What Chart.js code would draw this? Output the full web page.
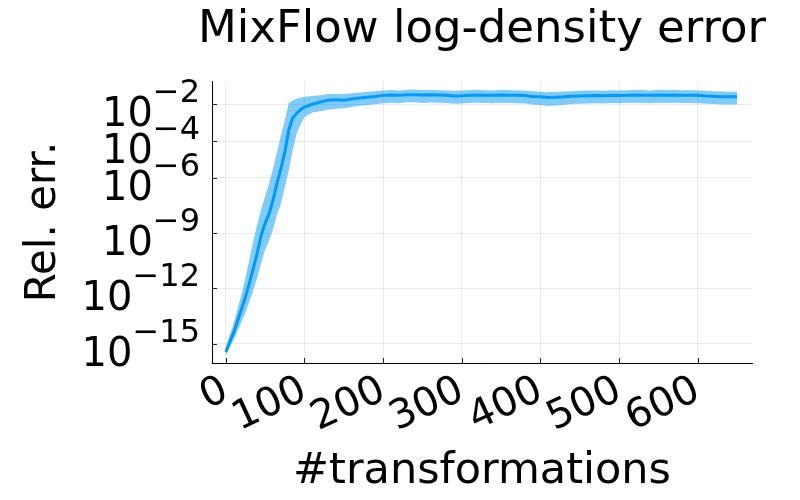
<!DOCTYPE html>
<html>
<head>
<meta charset="utf-8">
<script src="https://cdn.jsdelivr.net/npm/chart.js@4/dist/chart.umd.min.js"></script>
<style>
  html, body { margin: 0; padding: 0; background: #fff; }
</style>
</head>
<body>
<canvas id="c" width="800" height="500"></canvas>
<script>
// values (y given as log10)
const xValues = [0, 5, 10, 15, 20, 25, 30, 35, 40, 45, 50, 55, 60, 65, 70, 75, 80, 85, 90, 95, 100,
  110, 120, 130, 140, 150, 160, 170, 180, 190, 200, 210, 220, 230, 240, 250, 260, 270, 280, 290, 300,
  310, 320, 330, 340, 350, 360, 370, 380, 390, 400, 410, 420, 430, 440, 450, 460, 470, 480, 490, 500,
  510, 520, 530, 540, 550, 560, 570, 580, 590, 600, 610, 620, 630, 640, 650];

const centerLog = [-15.45, -14.9, -14.4, -13.75, -13.1, -12.45, -11.7, -10.9, -10.05, -9.1, -8.45,
  -7.95, -7.2, -6.3, -5.5, -4.6, -3.4, -2.75, -2.5, -2.3, -2.15,
  -2.0, -1.88, -1.78, -1.76, -1.78, -1.72, -1.66, -1.62, -1.58, -1.52, -1.5, -1.52, -1.49, -1.48, -1.5,
  -1.49, -1.5, -1.52, -1.55, -1.54, -1.52, -1.5, -1.51, -1.52, -1.5, -1.51, -1.52, -1.53, -1.58, -1.6,
  -1.64, -1.62, -1.6, -1.57, -1.55, -1.54, -1.53, -1.54, -1.52, -1.53, -1.52, -1.5, -1.51, -1.52, -1.5,
  -1.51, -1.5, -1.52, -1.51, -1.52, -1.55, -1.57, -1.59, -1.6, -1.6];

const upperLog = [-15.2, -14.5, -13.9, -13.1, -12.3, -11.4, -10.4, -9.4, -8.5, -7.7, -7.0,
  -6.3, -5.5, -4.6, -3.7, -2.85, -1.95, -1.8, -1.7, -1.65, -1.6,
  -1.55, -1.52, -1.45, -1.44, -1.45, -1.4, -1.36, -1.33, -1.3, -1.26, -1.23, -1.25, -1.22, -1.2, -1.23,
  -1.22, -1.24, -1.25, -1.27, -1.26, -1.24, -1.22, -1.24, -1.25, -1.22, -1.23, -1.25, -1.26, -1.3, -1.33,
  -1.35, -1.33, -1.31, -1.29, -1.27, -1.26, -1.25, -1.27, -1.24, -1.25, -1.24, -1.22, -1.23, -1.25, -1.22,
  -1.23, -1.22, -1.24, -1.23, -1.25, -1.27, -1.29, -1.31, -1.32, -1.32];

const lowerLog = [-15.65, -15.2, -14.8, -14.3, -13.8, -13.3, -12.7, -12.1, -11.4, -10.6, -9.9,
  -9.4, -8.8, -8.0, -7.4, -6.5, -5.6, -4.5, -3.6, -3.1, -2.7,
  -2.45, -2.38, -2.3, -2.25, -2.22, -2.15, -2.08, -2.04, -2.0, -1.95, -1.92, -1.95, -1.9, -1.9, -1.93,
  -1.91, -1.92, -1.94, -1.97, -1.96, -1.93, -1.92, -1.93, -1.95, -1.92, -1.93, -1.95, -1.96, -2.01, -2.04,
  -2.1, -2.07, -2.03, -1.99, -1.97, -1.96, -1.95, -1.96, -1.94, -1.95, -1.94, -1.92, -1.93, -1.95, -1.92,
  -1.94, -1.92, -1.94, -1.93, -1.95, -1.97, -1.99, -2.01, -2.02, -2.02];

const xTicks = [0, 100, 200, 300, 400, 500, 600];
const yTickExps = [-2, -4, -6, -9, -12, -15];

const FONT = '"DejaVu Sans", sans-serif';
const LINE = "#009afa";
const RIBBON = "rgba(0,154,250,0.5)";

const toPoints = (logs) => xValues.map((x, i) => ({ x, y: Math.pow(10, logs[i]) }));

// tick labels like 10^-2, inside tick marks and the title
const decorPlugin = {
  id: "decor",
  afterDraw(chart) {
    const { ctx, chartArea } = chart;
    const xs = chart.scales.x;
    const ys = chart.scales.y;
    ctx.save();
    ctx.strokeStyle = "#222";
    ctx.lineWidth = 1;
    ctx.beginPath();
    for (const t of xTicks) {
      const px = Math.round(xs.getPixelForValue(t)) + 0.5;
      ctx.moveTo(px, chartArea.bottom);
      ctx.lineTo(px, chartArea.bottom - 5);
    }
    for (const e of yTickExps) {
      const py = Math.round(ys.getPixelForValue(Math.pow(10, e))) + 0.5;
      ctx.moveTo(chartArea.left, py);
      ctx.lineTo(chartArea.left + 5, py);
    }
    ctx.stroke();

    ctx.fillStyle = "#000";
    ctx.textAlign = "left";
    ctx.textBaseline = "alphabetic";
    const right = chartArea.left - 12;
    for (const e of yTickExps) {
      const py = ys.getPixelForValue(Math.pow(10, e));
      const expText = "\u2212" + Math.abs(e);
      ctx.font = "32px " + FONT;
      const expW = ctx.measureText(expText).width;
      ctx.font = "40px " + FONT;
      const baseW = ctx.measureText("10").width;
      const x0 = right - expW - baseW;
      ctx.fillText("10", x0, py + 22);
      ctx.font = "32px " + FONT;
      ctx.fillText(expText, x0 + baseW, py - 2);
    }

    ctx.font = "45px " + FONT;
    ctx.textAlign = "center";
    ctx.fillText("MixFlow log-density error", (chartArea.left + chartArea.right) / 2, 42);
    ctx.restore();
  },
};

new Chart(document.getElementById("c"), {
  type: "line",
  data: {
    datasets: [
      {
        label: "mean",
        data: toPoints(centerLog),
        borderColor: LINE,
        borderWidth: 3,
        pointRadius: 0,
        fill: false,
        tension: 0,
      },
      {
        label: "upper",
        data: toPoints(upperLog),
        borderWidth: 0,
        borderColor: "rgba(0,0,0,0)",
        backgroundColor: RIBBON,
        pointRadius: 0,
        fill: "+1",
        tension: 0,
      },
      {
        label: "lower",
        data: toPoints(lowerLog),
        borderWidth: 0,
        borderColor: "rgba(0,0,0,0)",
        pointRadius: 0,
        fill: false,
        tension: 0,
      },
    ],
  },
  options: {
    responsive: false,
    devicePixelRatio: 1,
    animation: false,
    layout: { padding: { left: 0, right: 48, top: 81, bottom: 0 } },
    plugins: {
      legend: { display: false },
      tooltip: { enabled: false },
    },
    scales: {
      x: {
        type: "linear",
        min: -17.6,
        max: 669,
        afterBuildTicks: (s) => { s.ticks = xTicks.map((v) => ({ value: v })); },
        afterFit: (s) => { s.height = 137; },
        grid: { color: "rgba(0,0,0,0.08)", drawTicks: false },
        border: { color: "#000", width: 1 },
        ticks: {
          color: "#000",
          font: { family: FONT, size: 40 },
          minRotation: 25,
          maxRotation: 25,
          padding: 4,
        },
        title: {
          display: true,
          text: "#transformations",
          color: "#000",
          font: { family: FONT, size: 43 },
          padding: { top: 0, bottom: 2 },
        },
      },
      y: {
        type: "logarithmic",
        min: Math.pow(10, -16.03),
        max: Math.pow(10, -0.74),
        afterBuildTicks: (s) => { s.ticks = yTickExps.map((e) => ({ value: Math.pow(10, e) })); },
        afterFit: (s) => { s.width = 212; },
        grid: { color: "rgba(0,0,0,0.08)", drawTicks: false },
        border: { color: "#000", width: 1 },
        ticks: { display: false },
        title: {
          display: true,
          text: "Rel. err.",
          color: "#000",
          font: { family: FONT, size: 42 },
          padding: { top: 19, bottom: 0 },
        },
      },
    },
  },
  plugins: [decorPlugin],
});
</script>
</body>
</html>
